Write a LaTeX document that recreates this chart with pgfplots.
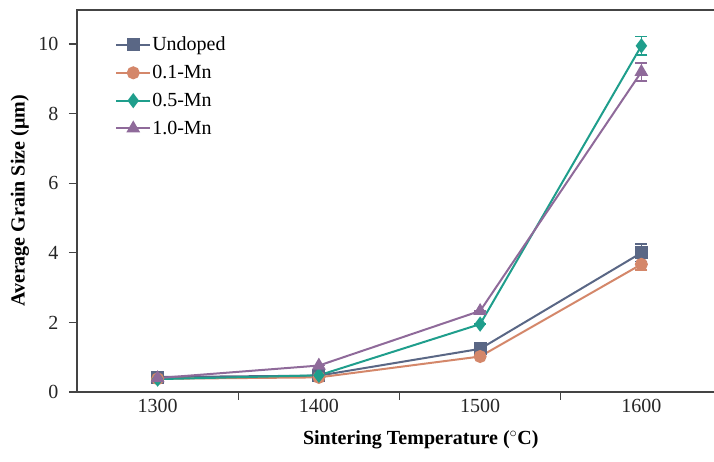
\documentclass[border=0pt]{standalone}
\usepackage{pgfplots}
\pgfplotsset{compat=1.18}
\usepackage{fontspec}
\setmainfont{Liberation Serif}
\definecolor{cU}{HTML}{5A6785}
\definecolor{cA}{HTML}{D4876A}
\definecolor{cB}{HTML}{1F9E8C}
\definecolor{cC}{HTML}{8F6A9A}
\definecolor{axc}{HTML}{444444}
\begin{document}
\begin{tikzpicture}
\useasboundingbox (-77pt,-70pt) rectangle (637pt,392pt);
\begin{axis}[
 at={(0pt,0pt)}, anchor=south west,
 scale only axis, width=645pt, height=382pt,
 xmin=-0.5, xmax=3.5, ymin=0, ymax=10.98,
 tick pos=left, tick align=outside,
 xtick={0.5,1.5,2.5}, xticklabels={},
 extra x ticks={0,1,2,3}, extra x tick labels={1300,1400,1500,1600},
 extra x tick style={major tick length=0pt, xticklabel style={yshift=-4pt}},
 ytick={0,2,...,10},
 major tick length=8pt,
 axis line style={line width=1.3pt, axc},
 every tick/.style={line width=1.3pt, axc},
 tick label style={font=\fontsize{20}{24}\selectfont, text=black!85},
 yticklabel style={xshift=-7pt},
 /pgf/number format/assume math mode=true,
 xlabel={\textbf{Sintering Temperature (}$^{\circ}$\textbf{C)}},
 ylabel={\textbf{Average Grain Size (μm)}},
 every axis x label/.style={at={(axis description cs:0.533,0)}, yshift=-48pt, anchor=center, font=\fontsize{20}{24}\selectfont},
 every axis y label/.style={at={(axis description cs:0,0.5)}, xshift=-57pt, rotate=90, anchor=center, font=\fontsize{20}{24}\selectfont},
 legend style={at={(axis description cs:0.059,0.935)}, anchor=north west, draw=none, fill=none,
   font=\fontsize{20}{24}\selectfont, row sep=9pt, inner sep=0pt,
   nodes={inner xsep=1pt}},
 legend cell align=left,
 legend image code/.code={\draw[mark repeat=2,mark phase=2] plot coordinates {(0pt,0pt) (17pt,0pt) (34pt,0pt)};},
 every axis plot/.append style={line width=2pt},
]
\addplot[cU, mark=square*, mark size=5.5pt, mark options={solid},
  error bars/.cd, y dir=both, y explicit,
  error bar style={line width=1.6pt}, error mark options={rotate=90, mark size=6pt, line width=1.6pt}]
  coordinates {(0,0.43) +- (0,0) (1,0.47) +- (0,0) (2,1.24) +- (0,0) (3,4.0) +- (0,0.25)};
\addlegendentry{Undoped}
\addplot[cA, mark=*, mark size=5.5pt, mark options={solid},
  error bars/.cd, y dir=both, y explicit,
  error bar style={line width=1.6pt}, error mark options={rotate=90, mark size=6pt, line width=1.6pt}]
  coordinates {(0,0.38) +- (0,0) (1,0.42) +- (0,0) (2,1.02) +- (0,0) (3,3.67) +- (0,0.17)};
\addlegendentry{0.1-Mn}
\addplot[cB, mark=diamond*, mark size=6pt, mark options={solid},
  error bars/.cd, y dir=both, y explicit,
  error bar style={line width=1.6pt}, error mark options={rotate=90, mark size=6pt, line width=1.6pt}]
  coordinates {(0,0.37) +- (0,0) (1,0.48) +- (0,0) (2,1.95) +- (0,0) (3,9.95) +- (0,0.27)};
\addlegendentry{0.5-Mn}
\addplot[cC, mark=triangle*, mark size=6pt, mark options={solid},
  error bars/.cd, y dir=both, y explicit,
  error bar style={line width=1.6pt}, error mark options={rotate=90, mark size=6pt, line width=1.6pt}]
  coordinates {(0,0.40) +- (0,0) (1,0.76) +- (0,0) (2,2.33) +- (0,0) (3,9.2) +- (0,0.26)};
\addlegendentry{1.0-Mn}
\end{axis}
\end{tikzpicture}
\end{document}
